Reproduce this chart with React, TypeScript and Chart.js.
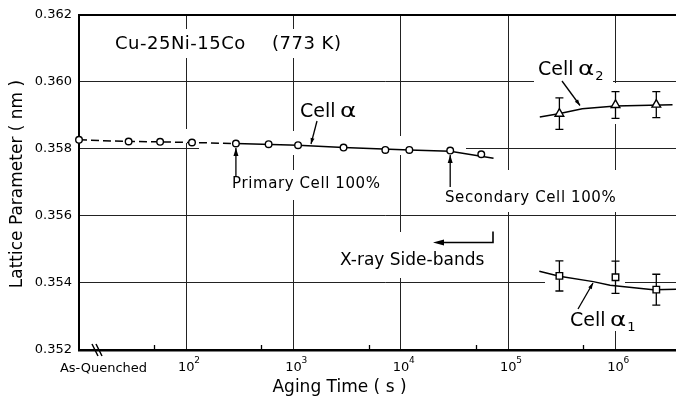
import React, { useEffect, useRef } from 'react';
import { Chart, registerables } from 'chart.js';

Chart.register(...registerables);

// ---------- data ----------
const yTicks = [0.352, 0.354, 0.356, 0.358, 0.36, 0.362];
const xDecades = [100, 1000, 10000, 100000, 1000000];
const xDecadeExps = ['2', '3', '4', '5', '6'];
const xMinorTicks = [50, 500, 5000, 50000, 500000];

// Cell α (first value = As-Quenched, drawn at the axis origin)
const alphaTimes = [10, 29, 57, 113, 290, 585, 1100, 2920, 7160, 11980, 28800, 56100];
const alphaValues = [0.35827, 0.35822, 0.35821, 0.35819, 0.35816, 0.35814, 0.35811, 0.35804, 0.35797, 0.35797, 0.35795, 0.35784];
const alphaDashedCount = 5; // dashed up to the primary-cell point
const alphaFitTimes = [290, 1100, 2920, 11980, 28800, 73000];
const alphaFitValues = [0.35816, 0.35811, 0.35804, 0.35797, 0.35793, 0.35772];

// Cell α2 (X-ray side-bands, upper)
const alpha2Times = [300000, 1000000, 2400000];
const alpha2Values = [0.35905, 0.35931, 0.35932];
const alpha2Errors = [0.00047, 0.0004, 0.00039];
const alpha2FitTimes = [197000, 295000, 490000, 1000000, 3400000];
const alpha2FitValues = [0.35895, 0.35905, 0.3592, 0.35928, 0.35932];

// Cell α1 (X-ray side-bands, lower)
const alpha1Times = [300000, 1000000, 2400000];
const alpha1Values = [0.35421, 0.35417, 0.3538];
const alpha1Errors = [0.00045, 0.00048, 0.00046];
const alpha1FitTimes = [195000, 300000, 620000, 890000, 2250000, 3700000];
const alpha1FitValues = [0.35435, 0.3542, 0.35404, 0.35393, 0.3538, 0.35381];

const FONT = 'DejaVu Sans';

const pts = (xs: number[], ys: number[]) => xs.map((x, i) => ({ x, y: ys[i] }));

function arrowHead(ctx: CanvasRenderingContext2D, x1: number, y1: number, x2: number, y2: number, len: number, half: number) {
  const a = Math.atan2(y2 - y1, x2 - x1);
  const c = Math.cos(a), s = Math.sin(a);
  ctx.beginPath();
  ctx.moveTo(x2, y2);
  ctx.lineTo(x2 - len * c + half * s, y2 - len * s - half * c);
  ctx.lineTo(x2 - len * c - half * s, y2 - len * s + half * c);
  ctx.closePath();
  ctx.fill();
}

function arrow(ctx: CanvasRenderingContext2D, x1: number, y1: number, x2: number, y2: number, len = 7, half = 2.5) {
  ctx.beginPath();
  ctx.moveTo(x1, y1);
  ctx.lineTo(x2, y2);
  ctx.stroke();
  arrowHead(ctx, x1, y1, x2, y2, len, half);
}

function cellLabel(ctx: CanvasRenderingContext2D, x: number, base: number, sub: string) {
  ctx.font = `19px "${FONT}"`;
  ctx.textAlign = 'left';
  ctx.textBaseline = 'alphabetic';
  ctx.fillText('Cell', x, base);
  ctx.save();
  ctx.translate(x + 40, base);
  ctx.scale(1.3, 1);
  ctx.fillText('α', 0, 0);
  const w = ctx.measureText('α').width * 1.3;
  ctx.restore();
  if (sub) {
    ctx.font = `13px "${FONT}"`;
    ctx.fillText(sub, x + 40 + w + 1, base + 5);
  }
}

const annotPlugin = {
  id: 'annot',
  beforeDatasetsDraw(chart: any) {
    const { ctx } = chart;
    const xs = chart.scales.x, ys = chart.scales.y;
    ctx.save();
    // white gaps in the grid around lettering (as in the drafted original)
    ctx.fillStyle = '#fff';
    const gaps = [
      [108, 29, 345, 58],
      [534, 55, 613, 83],
      [611, 83, 619, 124],
      [199, 144, 466, 151],
      [182, 129, 190, 143],
      [289, 131, 297, 155],
      [289, 170, 297, 200],
      [396, 136, 404, 155],
      [396, 232, 404, 278],
      [503, 170, 511, 212],
      [611, 170, 619, 212],
      [611, 294, 619, 331],
      [545, 279, 625, 287],
    ];
    gaps.forEach(([a, b, c, d]) => ctx.fillRect(a, b, c - a, d - b));
    // error bars
    ctx.strokeStyle = '#000';
    ctx.lineWidth = 1.3;
    const err = (t: number[], v: number[], e: number[]) => {
      t.forEach((tt, i) => {
        const x = xs.getPixelForValue(tt);
        const yt = ys.getPixelForValue(v[i] + e[i]);
        const yb = ys.getPixelForValue(v[i] - e[i]);
        ctx.beginPath();
        ctx.moveTo(x, yt); ctx.lineTo(x, yb);
        ctx.moveTo(x - 4, yt); ctx.lineTo(x + 4, yt);
        ctx.moveTo(x - 4, yb); ctx.lineTo(x + 4, yb);
        ctx.stroke();
      });
    };
    err(alpha2Times, alpha2Values, alpha2Errors);
    err(alpha1Times, alpha1Values, alpha1Errors);
    ctx.restore();
  },
  afterDraw(chart: any) {
    const { ctx, chartArea } = chart;
    const xs = chart.scales.x, ys = chart.scales.y;
    const bottom = chartArea.bottom;
    ctx.save();
    ctx.fillStyle = '#000';
    ctx.strokeStyle = '#000';

    // minor ticks at 5x10^n
    ctx.lineWidth = 1.3;
    xMinorTicks.forEach((t) => {
      const x = Math.round(xs.getPixelForValue(t)) + 0.5;
      ctx.beginPath();
      ctx.moveTo(x, bottom);
      ctx.lineTo(x, bottom - 5);
      ctx.stroke();
    });

    // axis break marks
    ctx.lineWidth = 1.5;
    ctx.beginPath();
    ctx.moveTo(92, bottom - 6); ctx.lineTo(98, bottom + 6);
    ctx.moveTo(96, bottom - 6); ctx.lineTo(102, bottom + 6);
    ctx.stroke();

    // x tick labels
    ctx.textBaseline = 'alphabetic';
    xDecades.forEach((t, i) => {
      const x = xs.getPixelForValue(t);
      ctx.font = `13px "${FONT}"`;
      ctx.textAlign = 'center';
      ctx.fillText('10', x, bottom + 21);
      ctx.font = `9px "${FONT}"`;
      ctx.textAlign = 'left';
      ctx.fillText(xDecadeExps[i], x + 8, bottom + 13);
    });
    ctx.font = `13px "${FONT}"`;
    ctx.textAlign = 'center';
    ctx.fillText('As-Quenched', 103.5, bottom + 22);

    // axis titles
    ctx.font = `17px "${FONT}"`;
    ctx.fillText('Aging Time ( s )', 339.5, 392);
    ctx.save();
    ctx.translate(17.5, 184);
    ctx.rotate(-Math.PI / 2);
    ctx.textBaseline = 'middle';
    ctx.fillText('Lattice Parameter ( nm )', 0, 0);
    ctx.restore();

    // title
    ctx.textAlign = 'left';
    ctx.textBaseline = 'alphabetic';
    ctx.font = `18px "${FONT}"`;
    (ctx as any).letterSpacing = '0.5px';
    ctx.fillText('Cu-25Ni-15Co', 115, 49);
    ctx.fillText('(773 K)', 272, 49);
    (ctx as any).letterSpacing = '0px';

    // labels
    cellLabel(ctx, 300, 117, '');
    cellLabel(ctx, 538, 75, '2');
    cellLabel(ctx, 570, 326, '1');

    ctx.font = `15px "${FONT}"`;
    (ctx as any).letterSpacing = '0.6px';
    ctx.fillText('Primary Cell 100%', 232, 188);
    ctx.fillText('Secondary Cell 100%', 445, 202);
    (ctx as any).letterSpacing = '0px';
    ctx.font = `17px "${FONT}"`;
    ctx.fillText('X-ray Side-bands', 340, 265);

    // arrows
    ctx.lineWidth = 1.3;
    const pX = xs.getPixelForValue(alphaTimes[4]);
    const pY = ys.getPixelForValue(alphaValues[4]);
    arrow(ctx, pX, 176, pX, pY + 4.5, 8, 2.5);
    const sX = xs.getPixelForValue(alphaTimes[10]);
    const sY = ys.getPixelForValue(alphaValues[10]);
    arrow(ctx, sX, 187, sX, sY + 4.5, 8, 2.5);
    arrow(ctx, 317, 121, 311, 144, 6, 2);
    arrow(ctx, 562, 81, 580, 105.5, 6, 2);
    arrow(ctx, 578, 309, 593, 283, 6, 2);

    // side-bands arrow
    ctx.lineWidth = 1.6;
    ctx.beginPath();
    ctx.moveTo(493, 231.5);
    ctx.lineTo(493, 242.5);
    ctx.lineTo(440, 242.5);
    ctx.stroke();
    arrowHead(ctx, 445, 242.5, 433, 242.5, 11, 3);

    ctx.restore();
  },
};

export default function App() {
  const ref = useRef<HTMLCanvasElement | null>(null);

  useEffect(() => {
    if (!ref.current) return;
    const black = '#000';
    const pointDs = (data: any[], style: string, radius: number) => ({
      data,
      showLine: false,
      pointStyle: style,
      pointRadius: radius,
      pointBorderWidth: 1.4,
      pointBackgroundColor: '#fff',
      pointBorderColor: black,
      borderColor: black,
      clip: false as any,
      order: 0,
    });
    const lineDs = (data: any[], dash: number[] = []) => ({
      data,
      showLine: true,
      borderColor: black,
      borderWidth: 1.5,
      borderDash: dash,
      pointRadius: 0,
      tension: 0,
      fill: false,
      order: 1,
    });

    const chart = new Chart(ref.current, {
      type: 'line',
      data: {
        datasets: [
          pointDs(pts(alphaTimes, alphaValues), 'circle', 3.3),
          pointDs(pts(alpha2Times, alpha2Values), 'triangle', 5),
          pointDs(pts(alpha1Times, alpha1Values), 'rect', 4.6),
          lineDs(pts(alphaTimes.slice(0, alphaDashedCount), alphaValues.slice(0, alphaDashedCount)), [8, 4]),
          lineDs(pts(alphaFitTimes, alphaFitValues)),
          lineDs(pts(alpha2FitTimes, alpha2FitValues)),
          lineDs(pts(alpha1FitTimes, alpha1FitValues)),
        ] as any,
      },
      options: {
        animation: false,
        responsive: false,
        devicePixelRatio: 1,
        layout: { padding: { top: 13, left: 0, right: 9.5, bottom: 0 } },
        plugins: { legend: { display: false }, tooltip: { enabled: false } },
        scales: {
          x: {
            type: 'logarithmic',
            min: 10,
            max: 5000000,
            afterBuildTicks: (s: any) => {
              s.ticks = xDecades.map((v) => ({ value: v }));
            },
            afterFit: (s: any) => {
              s.height = 48;
            },
            ticks: { display: false },
            grid: { color: '#222', lineWidth: 1, drawTicks: false },
            border: { color: black, width: 2.5 },
          },
          y: {
            type: 'linear',
            min: 0.352,
            max: 0.362,
            afterBuildTicks: (s: any) => {
              s.ticks = yTicks.map((v) => ({ value: v }));
            },
            afterFit: (s: any) => {
              s.width = 79;
            },
            ticks: {
              callback: (v: any) => Number(v).toFixed(3),
              font: { family: FONT, size: 13 },
              color: black,
              padding: 7,
            },
            grid: {
              drawTicks: false,
              color: (c: any) => (c.tick && Math.abs(c.tick.value - 0.362) < 1e-9 ? black : '#222'),
              lineWidth: (c: any) => (c.tick && Math.abs(c.tick.value - 0.362) < 1e-9 ? 2 : 1),
            },
            border: { color: black, width: 2 },
          },
        },
      } as any,
      plugins: [annotPlugin],
    });
    return () => chart.destroy();
  }, []);

  return (
    <div
      style={{
        position: 'fixed',
        left: 0,
        top: 0,
        width: 676,
        height: 398,
        overflow: 'hidden',
        background: '#fff',
      }}
    >
      <canvas ref={ref} width={700} height={398} style={{ width: 700, height: 398, display: 'block' }} />
    </div>
  );
}
